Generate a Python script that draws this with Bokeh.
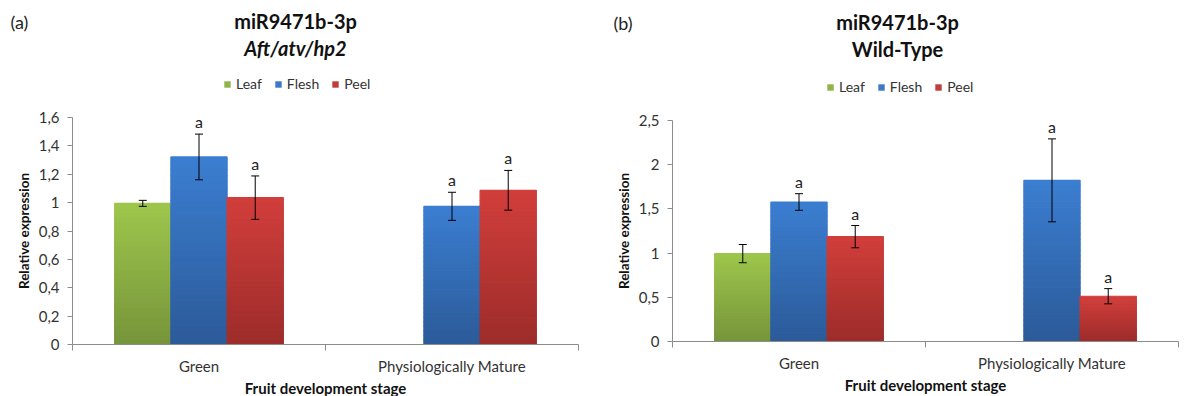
import numpy as np
from bokeh.plotting import figure
from bokeh.layouts import row, column
from bokeh.models import (Range1d, FixedTicker, CustomJSTickFormatter, Whisker, TeeHead,
                          ColumnDataSource, Legend, LegendItem)
from bokeh.core.properties import value
from bokeh.embed import file_html
from bokeh.resources import INLINE

stages = ["Green", "Physiologically Mature"]
tissues = ["Leaf", "Flesh", "Peel"]

# (a) Aft/atv/hp2
a_leaf = [0.995, 0.0]
a_flesh = [1.322, 0.974]
a_peel = [1.035, 1.087]
a_leaf_err = [0.021, 0.0]
a_flesh_err = [0.161, 0.099]
a_peel_err = [0.153, 0.140]
a_letters = {"Leaf": ["", ""], "Flesh": ["a", "a"], "Peel": ["a", "a"]}

# (b) Wild-Type
b_leaf = [0.994, 0.0]
b_flesh = [1.578, 1.823]
b_peel = [1.186, 0.512]
b_leaf_err = [0.103, 0.0]
b_flesh_err = [0.094, 0.469]
b_peel_err = [0.126, 0.086]
b_letters = {"Leaf": ["", ""], "Flesh": ["a", "a"], "Peel": ["a", "a"]}

a_yticks = [0, 0.2, 0.4, 0.6, 0.8, 1.0, 1.2, 1.4, 1.6]
b_yticks = [0, 0.5, 1.0, 1.5, 2.0, 2.5]

title_main = "miR9471b-3p"
a_title2 = "Aft/atv/hp2"
b_title2 = "Wild-Type"

FONT = "Lato"
TOP = {"Leaf": (158, 198, 76), "Flesh": (59, 126, 209), "Peel": (209, 62, 59)}
BOT = {"Leaf": (118, 148, 58), "Flesh": (43, 90, 152), "Peel": (156, 44, 42)}
SWATCH = {"Leaf": "#8fb548", "Flesh": "#3f78c4", "Peel": "#c03c3a"}
HEAD_W, HEAD_H = 1185, 100


def hexc(c):
    return "#%02x%02x%02x" % tuple(int(round(v)) for v in c)


def make_header():
    h = figure(width=HEAD_W, height=HEAD_H, output_backend="svg", toolbar_location=None,
               x_range=Range1d(0, HEAD_W), y_range=Range1d(HEAD_H, 0),
               x_axis_location=None, y_axis_location=None,
               min_border=0, min_border_left=0, min_border_right=0,
               min_border_top=0, min_border_bottom=0)
    h.outline_line_color = None
    h.grid.visible = False
    panels = [("(a)", 10, 21, 295, 20, 47, a_title2, True, (223, 8)),
              ("(b)", 613, 22, 897, 21, 48, b_title2, False, (826, 5))]
    proxies = []
    for t in tissues:
        r = h.quad(left=[np.nan], right=[np.nan], bottom=[np.nan], top=[np.nan],
                   fill_color=SWATCH[t], line_color=None)
        proxies.append(r)
    for tag, tx, ty, cx, y1, y2, t2, italic, loc in panels:
        h.text(x=[tx], y=[ty], text=[tag], text_font=value(FONT), text_font_size="18px",
               text_color="#222222", text_align="left", text_baseline="middle")
        h.text(x=[cx], y=[y1], text=[title_main], text_font=value(FONT),
               text_font_size="20px", text_font_style="bold", text_color="#111111",
               text_align="center", text_baseline="middle")
        h.text(x=[cx], y=[y2], text=[t2], text_font=value(FONT),
               text_font_size="20px", text_font_style="bold italic" if italic else "bold",
               text_color="#111111", text_align="center", text_baseline="middle")
        items = [LegendItem(label=t, renderers=[r]) for t, r in zip(tissues, proxies)]
        leg = Legend(items=items, orientation="horizontal", location=loc,
                     border_line_color=None, background_fill_alpha=0, padding=0, margin=0,
                     spacing=12, glyph_width=8, glyph_height=8, label_standoff=5,
                     label_text_font=FONT, label_text_font_size="14px",
                     label_text_color="#333333", label_height=16)
        h.add_layout(leg, "center")
    return h


def make_panel(values, errors, letters, yticks, ymax, fw, fh, borders):
    bl, br, bt, bb = borders
    p = figure(frame_width=fw, frame_height=fh, output_backend="svg", toolbar_location=None,
               x_range=Range1d(0, 2), y_range=Range1d(0, ymax),
               min_border_left=bl, min_border_right=br, min_border_top=bt,
               min_border_bottom=bb)
    p.outline_line_color = None
    p.grid.visible = False

    w = 1 / 4.5
    centers = np.array([0.5, 1.5])
    offsets = {"Leaf": -w, "Flesh": 0.0, "Peel": w}
    nb = 30
    for t in tissues:
        vals = np.array(values[t], dtype=float)
        errs = np.array(errors[t], dtype=float)
        xs = centers + offsets[t]
        L, R, B, T, C = [], [], [], [], []
        for x, v in zip(xs, vals):
            if v <= 0:
                continue
            edges = np.linspace(0, v, nb + 1)
            for k in range(nb):
                f = (k + 0.5) / nb
                col = [BOT[t][i] + (TOP[t][i] - BOT[t][i]) * f for i in range(3)]
                L.append(x - w / 2); R.append(x + w / 2)
                B.append(edges[k]); T.append(edges[k + 1]); C.append(hexc(col))
        p.quad(left=L, right=R, bottom=B, top=T, fill_color=C, line_color=C, line_width=1.2)
        mask = vals > 0
        src = ColumnDataSource(dict(x=xs[mask], lo=(vals - errs)[mask], hi=(vals + errs)[mask],
                                    lab=[l for l, m in zip(letters[t], mask) if m]))
        wh = Whisker(base="x", lower="lo", upper="hi", source=src, line_color="black",
                     line_width=1, level="overlay",
                     upper_head=TeeHead(size=8, line_color="black", line_width=1),
                     lower_head=TeeHead(size=8, line_color="black", line_width=1))
        p.add_layout(wh)
        p.text(x="x", y="hi", text="lab", source=src, text_align="center",
               text_baseline="bottom", y_offset=-3, text_font=value(FONT),
               text_font_size="16px", text_color="#222222")

    ya = p.yaxis[0]
    ya.ticker = FixedTicker(ticks=yticks)
    ya.formatter = CustomJSTickFormatter(
        code="return String(Math.round(tick*10)/10).replace('.', ',');")
    ya.axis_line_color = "#8c8c8c"
    ya.major_tick_line_color = "#8c8c8c"
    ya.major_tick_out = 5
    ya.major_tick_in = 0
    ya.minor_tick_line_color = None
    ya.major_label_text_font = FONT
    ya.major_label_text_font_size = "15px"
    ya.major_label_text_color = "#333333"
    ya.major_label_standoff = 8
    ya.axis_label = "Relative expression"
    ya.axis_label_text_font = FONT
    ya.axis_label_text_font_style = "bold"
    ya.axis_label_text_font_size = "13.5px"
    ya.axis_label_text_color = "#111111"
    ya.axis_label_standoff = 4

    xa = p.xaxis[0]
    xa.ticker = FixedTicker(ticks=[0.5, 1.5], minor_ticks=[0, 1, 2])
    xa.major_label_overrides = {0.5: stages[0], 1.5: stages[1]}
    xa.axis_line_color = "#8c8c8c"
    xa.major_tick_line_color = None
    xa.major_tick_out = 0
    xa.major_tick_in = 0
    xa.minor_tick_line_color = "#8c8c8c"
    xa.minor_tick_out = 6
    xa.minor_tick_in = 0
    xa.major_label_text_font = FONT
    xa.major_label_text_font_size = "15px"
    xa.major_label_text_color = "#333333"
    xa.major_label_standoff = 6
    xa.axis_label = "Fruit development stage"
    xa.axis_label_text_font = FONT
    xa.axis_label_text_font_style = "bold"
    xa.axis_label_text_font_size = "15px"
    xa.axis_label_text_color = "#111111"
    xa.axis_label_standoff = 1
    return p


header = make_header()
pa = make_panel({"Leaf": a_leaf, "Flesh": a_flesh, "Peel": a_peel},
                {"Leaf": a_leaf_err, "Flesh": a_flesh_err, "Peel": a_peel_err},
                a_letters, a_yticks, 1.6, 506, 227, (72, 22, 17, 52))
pb = make_panel({"Leaf": b_leaf, "Flesh": b_flesh, "Peel": b_peel},
                {"Leaf": b_leaf_err, "Flesh": b_flesh_err, "Peel": b_peel_err},
                b_letters, b_yticks, 2.5, 506, 221, (72, 7, 20, 55))

layout = column(header, row(column(pa), column(pb)))
open("out.html", "w").write(file_html(layout, INLINE))
